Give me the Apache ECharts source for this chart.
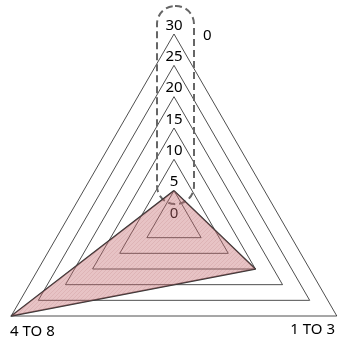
<!DOCTYPE html>
<html>
    <head>
        <meta charset="utf-8">
        <script src="https://cdn.jsdelivr.net/npm/echarts@6/dist/echarts.min.js"></script>
        <style>
            body {
                margin: 0;
                background: #fff;
            }
            #main {
                width: 341px;
                height: 348px;
            }
        </style>
    </head>
    <body>
        <div id="main"></div>

        <script>
        // indicators, counter-clockwise from the top
        const categories = ['0', '4 TO 8', '1 TO 3'];
        const values = [5, 30, 15];
        const axisMax = 30;
        const tickStep = 5;

        const font = '"Noto Sans", "Open Sans", sans-serif';

        // hatched pink fill
        const pat = document.createElement('canvas');
        pat.width = 4;
        pat.height = 4;
        const pctx = pat.getContext('2d');
        pctx.fillStyle = 'rgba(195, 105, 110, 0.4)';
        pctx.fillRect(0, 0, 4, 4);
        pctx.strokeStyle = 'rgba(160, 70, 75, 0.12)';
        pctx.lineWidth = 1;
        pctx.beginPath();
        pctx.moveTo(0, 4);
        pctx.lineTo(4, 0);
        pctx.stroke();

        const chart = echarts.init(document.getElementById('main'));

        chart.setOption({
            animation: false,
            radar: {
                center: [174, 222],
                radius: 188,
                shape: 'polygon',
                splitNumber: axisMax / tickStep,
                startAngle: 90,
                indicator: categories.map(function (name) {
                    return { name: name, min: 0, max: axisMax };
                }),
                axisName: { show: false },
                axisLine: { show: false },
                axisTick: { show: false },
                axisLabel: { show: false },
                splitArea: { show: false },
                splitLine: {
                    lineStyle: { color: '#222', width: 0.8 }
                }
            },
            // vertical value labels along the top axis
            grid: {
                left: 174,
                top: 34,
                width: 1,
                height: 188
            },
            xAxis: { type: 'value', show: false },
            yAxis: {
                type: 'value',
                min: 0,
                max: axisMax,
                interval: tickStep,
                axisLine: { show: false },
                axisTick: { show: false },
                splitLine: { show: false },
                axisLabel: {
                    align: 'center',
                    verticalAlign: 'bottom',
                    margin: 0,
                    padding: [0, 0, 1, 0],
                    color: '#000',
                    fontSize: 15,
                    fontFamily: font
                }
            },
            graphic: [
                {
                    type: 'rect',
                    z: 1,
                    shape: { x: 157, y: 6, width: 37, height: 198, r: 18 },
                    style: {
                        fill: 'none',
                        stroke: '#666',
                        lineWidth: 2,
                        lineDash: [7, 4]
                    }
                },
                {
                    type: 'text', x: 203, y: 36,
                    style: { text: categories[0], fontSize: 15, fontFamily: font, fill: '#000', verticalAlign: 'middle' }
                },
                {
                    type: 'text', x: 10, y: 332,
                    style: { text: categories[1], fontSize: 15, fontFamily: font, fill: '#000', verticalAlign: 'middle' }
                },
                {
                    type: 'text', x: 335, y: 330,
                    style: { text: categories[2], fontSize: 15, fontFamily: font, fill: '#000', align: 'right', verticalAlign: 'middle' }
                }
            ],
            series: [{
                type: 'radar',
                symbol: 'none',
                lineStyle: { color: '#333', width: 1.5 },
                areaStyle: {
                    color: { image: pat, repeat: 'repeat' },
                    opacity: 1
                },
                data: [{ value: values }]
            }]
        });
        </script>
    </body>
</html>
